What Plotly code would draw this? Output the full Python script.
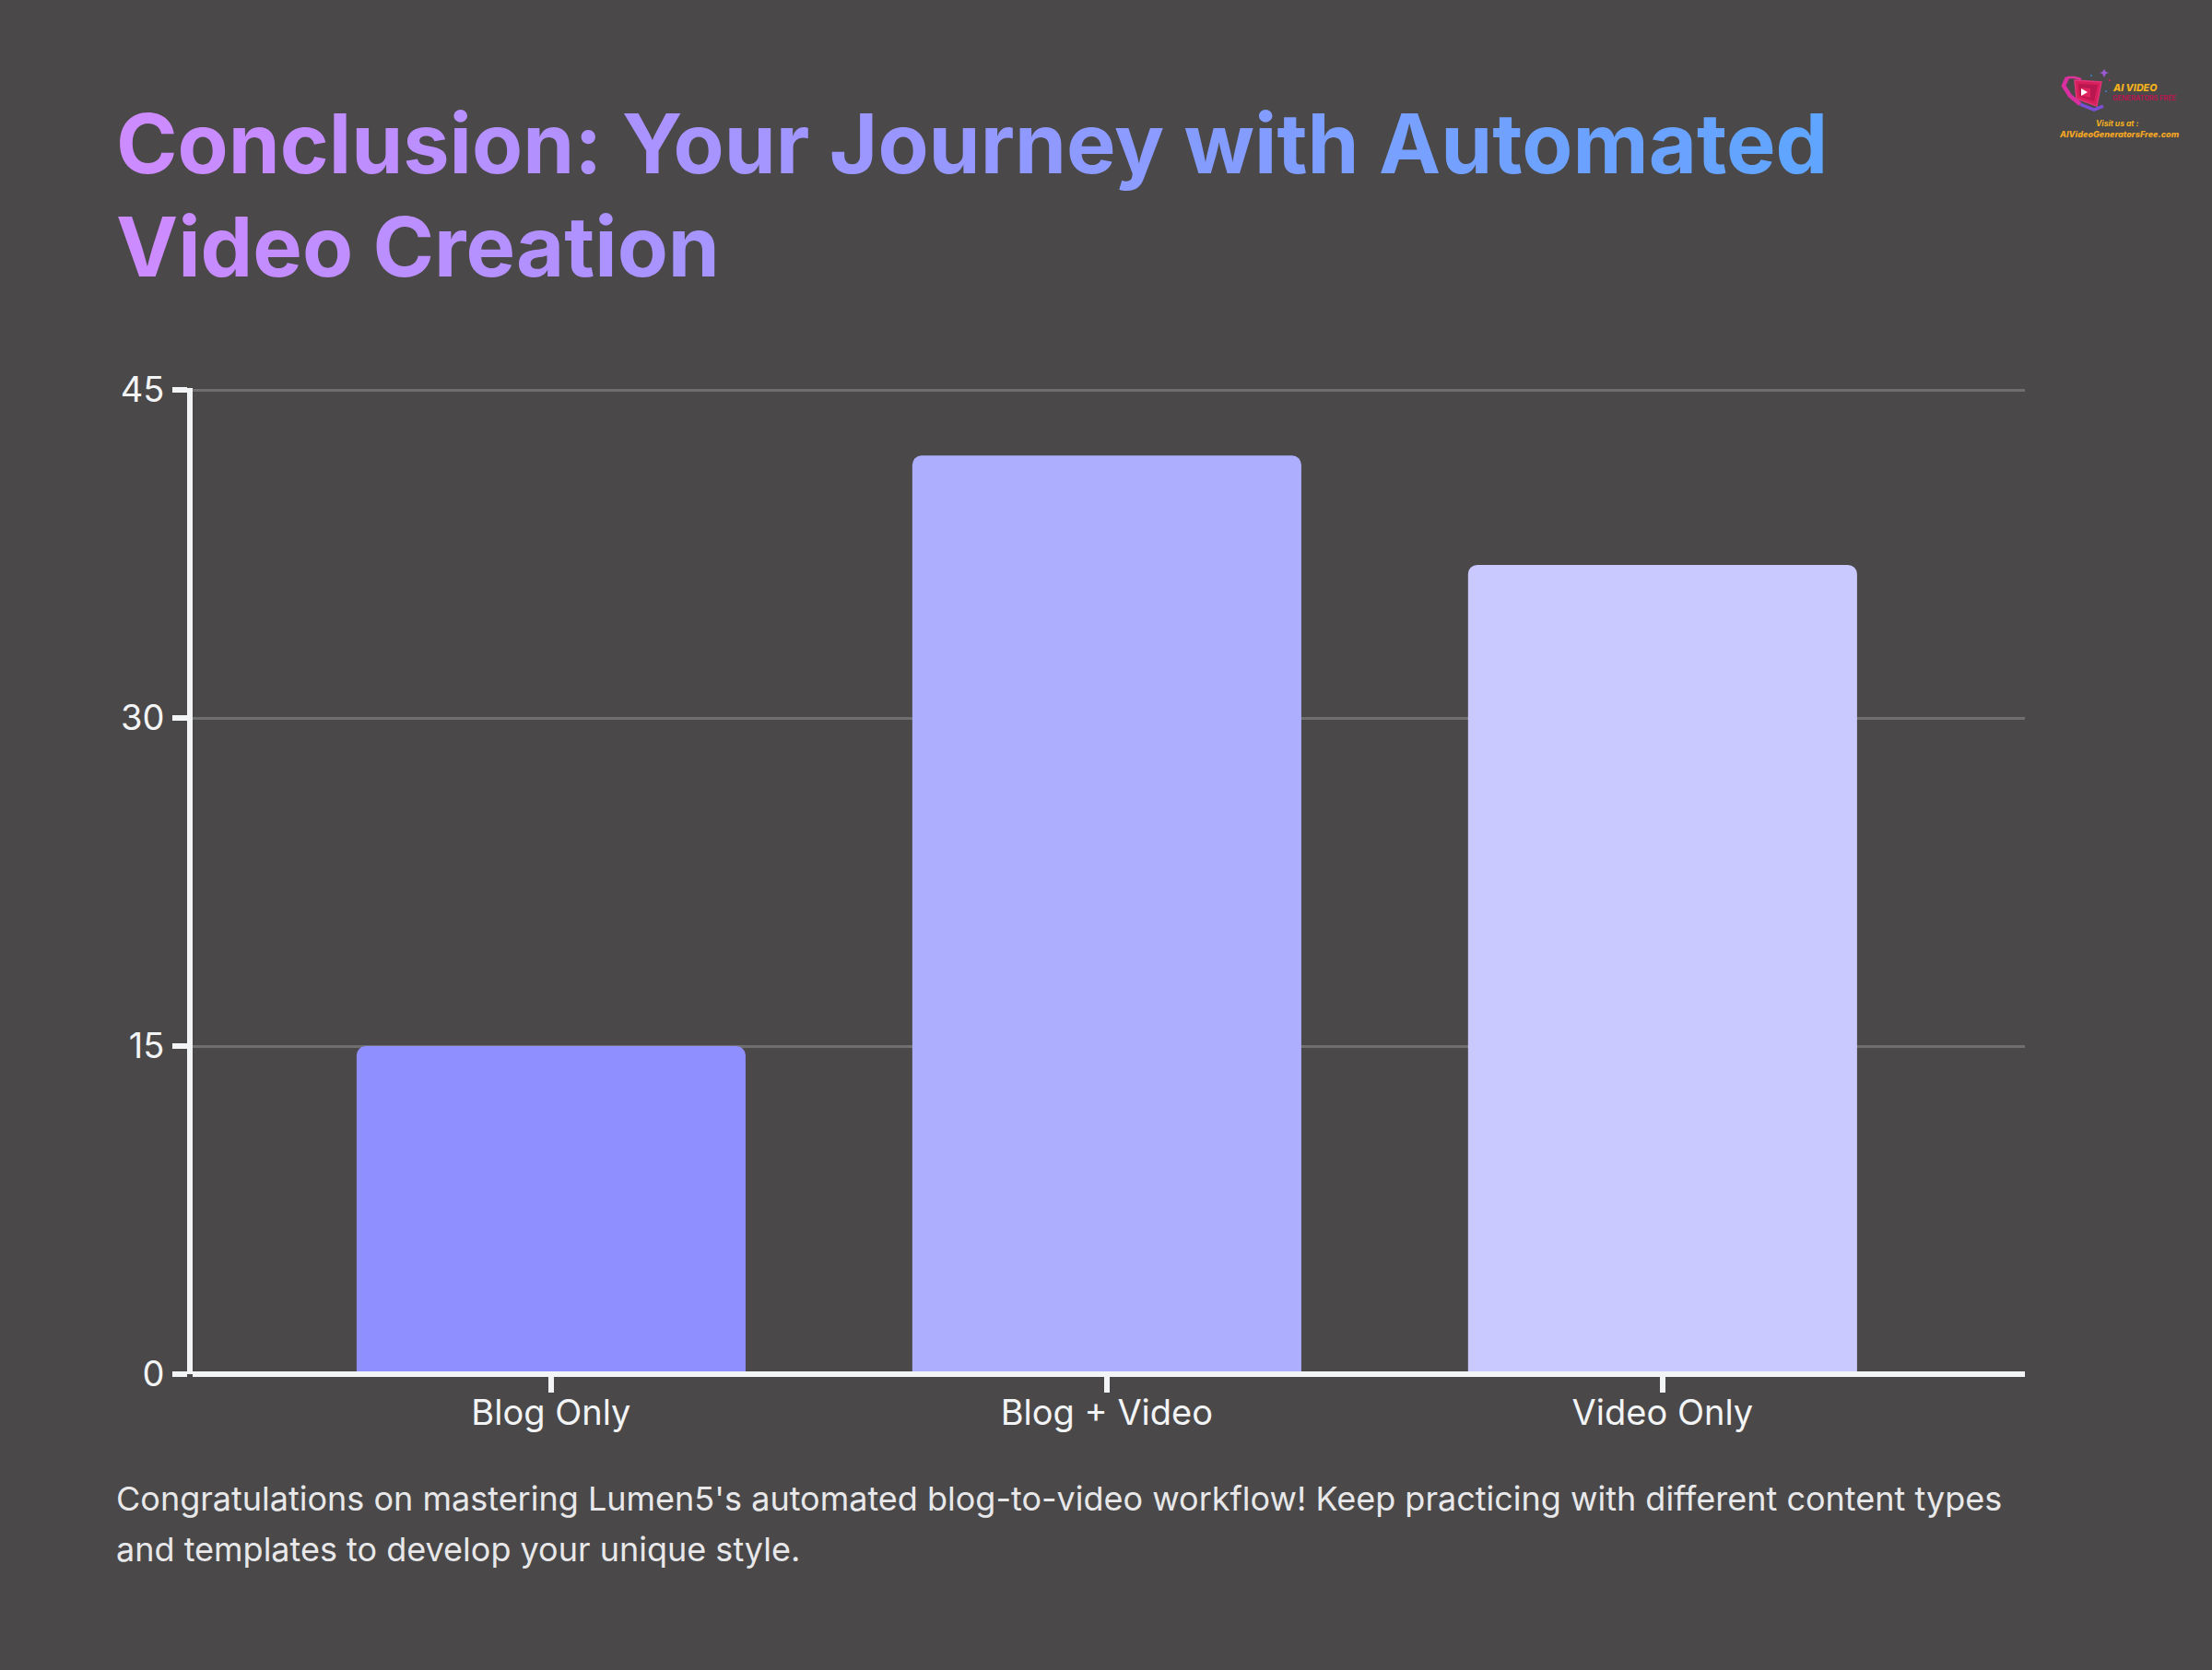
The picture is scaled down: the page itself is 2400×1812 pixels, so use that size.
import plotly.graph_objects as go

categories = ["Blog Only", "Blog + Video", "Video Only"]
values = [15, 42, 37]
bar_colors = ["#8f8fff", "#aeaeff", "#cac9ff"]
y_ticks = [0, 15, 30, 45]

title_lines = ["Conclusion: Your Journey with Automated", "Video Creation"]
body_lines = [
    "Congratulations on mastering Lumen5's automated blog-to-video workflow! Keep practicing with different content types",
    "and templates to develop your unique style.",
]

W, H = 2400, 1812
LEFT, RIGHT, TOP, BOTTOM = 209, 2197, 421, 1491
BG = "#4a4849"
AXIS = "#f3f4f6"
FONT = "Inter"


def px_x(x):
    return (x - LEFT) / (RIGHT - LEFT)


def px_y(y):
    return (BOTTOM - y) / (BOTTOM - TOP)


def gradient_text(text, end_frac):
    # title fill runs left to right, so colour each letter by where it lands
    start = (204, 139, 255)
    end = (96, 165, 255)
    out = ""
    for i, ch in enumerate(text):
        t = end_frac * i / max(len(text) - 1, 1)
        rgb = [round(a + (b - a) * t) for a, b in zip(start, end)]
        out += f'<span style="color:rgb({rgb[0]},{rgb[1]},{rgb[2]})">{ch}</span>'
    return out


def label(x, y, text, size, color, anchor="left", weight=400, italic=False):
    return dict(
        x=px_x(x), y=px_y(y), xref="paper", yref="paper",
        text=text, showarrow=False, xanchor=anchor, yanchor="middle",
        font=dict(family=FONT, size=size, color=color, weight=weight,
                  style="italic" if italic else "normal"),
    )


def path(points, fill, line=None, width=0, close=True):
    d = ""
    for i, (x, y) in enumerate(points):
        d += ("M" if i == 0 else "L") + f"{px_x(x):.5f},{px_y(y):.5f} "
    if close:
        d += "Z"
    return dict(type="path", path=d, xref="paper", yref="paper", fillcolor=fill,
                line=dict(color=line or fill, width=width), layer="above")


def dot(x, y, r, color):
    return dict(type="circle", xref="paper", yref="paper",
                x0=px_x(x - r), x1=px_x(x + r), y0=px_y(y + r), y1=px_y(y - r),
                fillcolor=color, line_width=0, layer="above")


fig = go.Figure(
    go.Bar(
        x=categories,
        y=values,
        marker_color=bar_colors,
        marker_line_width=0,
        hoverinfo="skip",
    )
)

annotations = [
    label(124, 156, gradient_text(title_lines[0], 1.0), 90, "#cc8bff", weight=700),
    label(124, 267.5, gradient_text(title_lines[1], 0.35), 90, "#cc8bff", weight=700),
    label(124, 1626, body_lines[0], 36, "#e8e8ea"),
    label(124, 1681, body_lines[1], 36, "#e8e8ea"),
    # logo wording, top right
    label(2290, 96, "AI VIDEO", 10.7, "#f5b21d", weight=800, italic=True),
    label(2290, 106, "GENERATORS FREE", 7.3, "#b5174f", weight=700),
    label(2297, 134, "Visit us at :", 8.5, "#f5b21d", anchor="center", weight=700, italic=True),
    label(2299, 145, "AIVideoGeneratorsFree.com", 9.1, "#f5a623", anchor="center", weight=800, italic=True),
]

shapes = [
    # paper ref so the line is not clipped at the plot edge
    dict(type="line", xref="paper", yref="paper", x0=0, x1=1, y0=0, y1=0,
         line=dict(color=AXIS, width=6), layer="above"),
    # logo mark
    path([(2243, 84), (2239, 93), (2246, 104), (2257, 113)],
         "rgba(0,0,0,0)", "#d92fa0", 4.5, close=False),
    path([(2257, 113), (2272, 119), (2282, 115)], "rgba(0,0,0,0)", "#7a4fd6", 3.5, close=False),
    path([(2243, 84), (2251, 84), (2258, 86)], "rgba(0,0,0,0)", "#e0349c", 2.5, close=False),
    path([(2251, 87), (2280, 89), (2275, 115), (2253, 107)], "#d81e5b", "#e0357a", 1.5),
    path([(2255, 91), (2276, 92), (2272, 110), (2256, 104)], "#b8174f"),
    path([(2258, 95), (2268, 96), (2268, 106), (2259, 104)], "#e0245e"),
    path([(2258, 96), (2265, 100), (2258, 104)], "#ffffff"),
    path([(2283, 75), (2285, 78), (2288, 79), (2285, 80), (2283, 84), (2281, 80), (2278, 79), (2281, 78)], "#9a5ad0"),
    dot(2269, 82, 1, "#3f7fd0"),
    dot(2289, 87, 1, "#d81e5b"),
    dot(2285, 99, 1, "#3f7fd0"),
]

fig.update_layout(
    width=W,
    height=H,
    margin=dict(l=LEFT, r=W - RIGHT, t=TOP, b=H - BOTTOM, pad=0),
    paper_bgcolor=BG,
    plot_bgcolor=BG,
    showlegend=False,
    bargap=0.3,
    barcornerradius=10,
    font=dict(family=FONT, color=AXIS, size=38),
    annotations=annotations,
    shapes=shapes,
    xaxis=dict(
        type="category",
        range=[-0.645, 2.652],
        showgrid=False,
        zeroline=False,
        showline=False,
        ticks="outside",
        ticklen=19,
        tickwidth=6,
        tickcolor=AXIS,
        ticklabelstandoff=-11,
    ),
    yaxis=dict(
        # headroom above 45 keeps its gridline from being dropped at the edge
        range=[0, 45.085],
        tickvals=y_ticks,
        showgrid=True,
        gridcolor="#706f70",
        gridwidth=3,
        zeroline=False,
        showline=True,
        linecolor=AXIS,
        linewidth=6,
        ticks="outside",
        ticklen=16,
        tickwidth=6,
        tickcolor=AXIS,
        ticklabelstandoff=1,
    ),
)

fig.write_html(
    "out.html",
    config={"displayModeBar": False},
    post_script="document.body.style.margin='0';document.body.style.overflow='hidden';",
)
